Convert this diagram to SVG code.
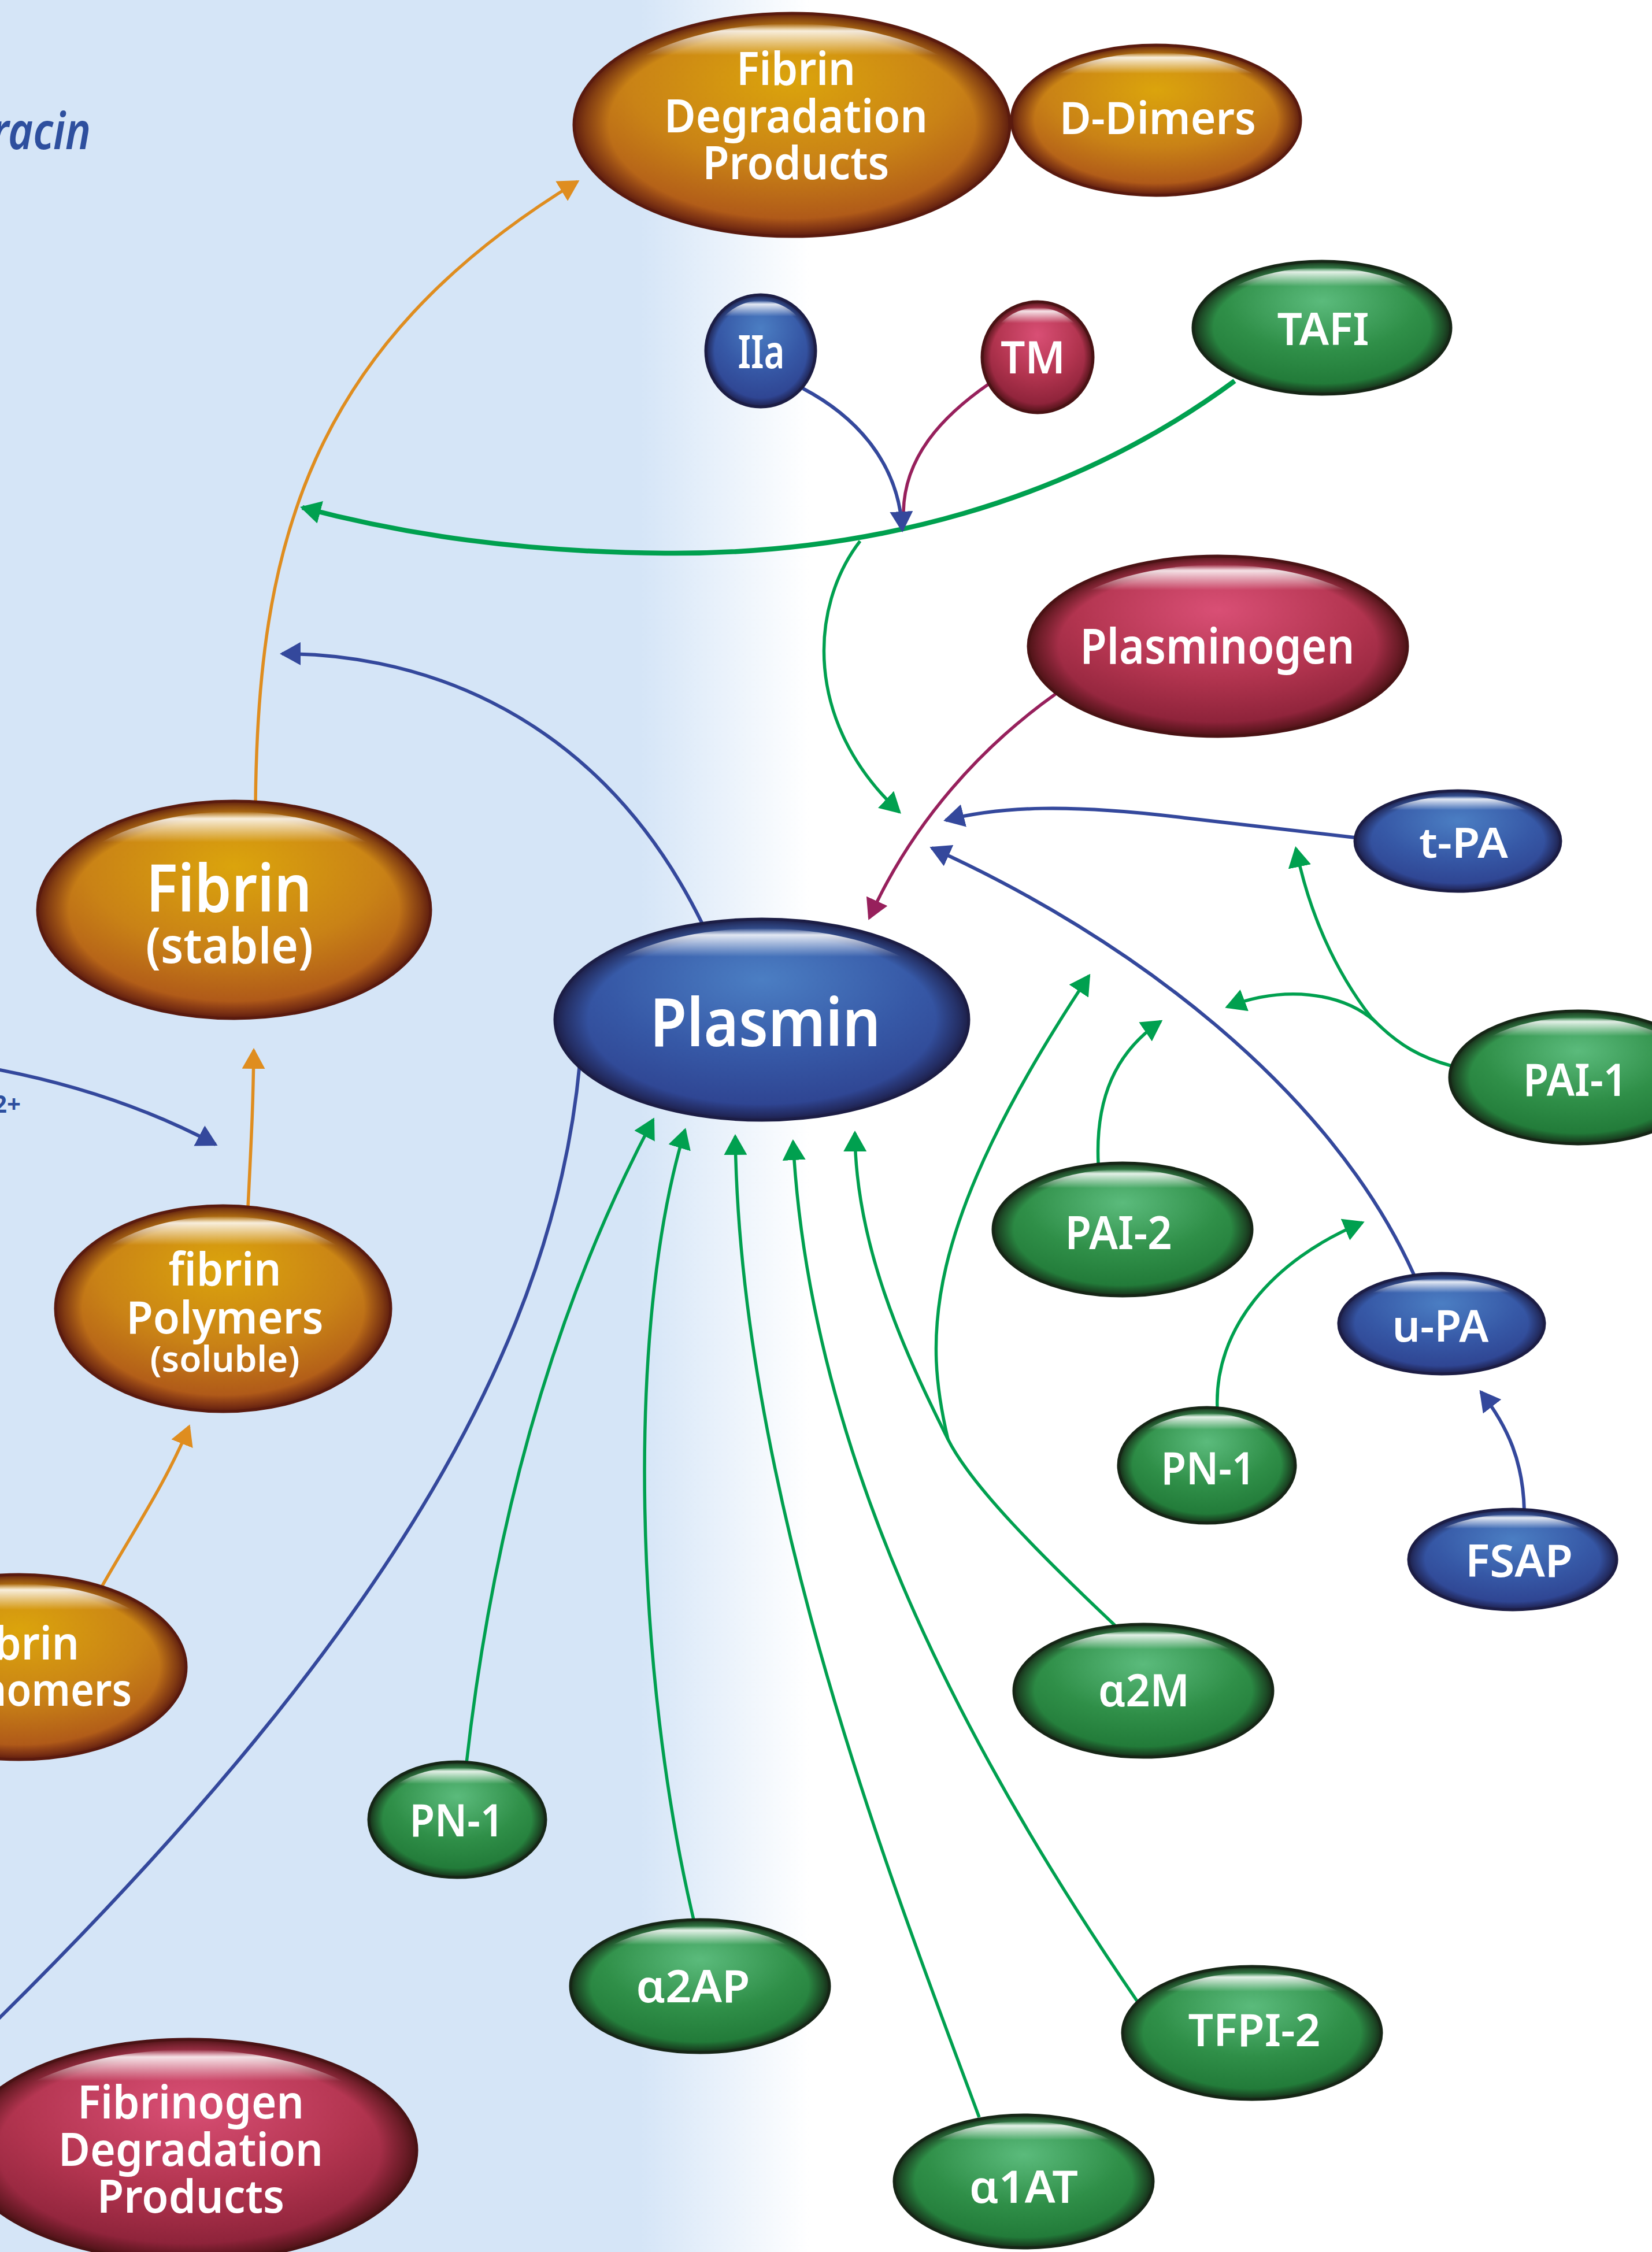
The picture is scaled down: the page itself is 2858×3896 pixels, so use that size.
<svg xmlns="http://www.w3.org/2000/svg" width="2858" height="3896" viewBox="0 0 2858 3896">
<defs>
<linearGradient id="bg" gradientUnits="userSpaceOnUse" x1="0" y1="0" x2="2858" y2="0">
<stop offset="0" stop-color="#d5e5f7"/><stop offset="0.388" stop-color="#d5e5f7"/><stop offset="0.49" stop-color="#ffffff"/><stop offset="1" stop-color="#ffffff"/>
</linearGradient>
<radialGradient id="bOr" cx="0.5" cy="0.3" r="0.75"><stop offset="0" stop-color="#dba40c"/><stop offset="0.5" stop-color="#c98216"/><stop offset="1" stop-color="#a2441a"/></radialGradient>
<radialGradient id="bGr" cx="0.5" cy="0.3" r="0.75"><stop offset="0" stop-color="#5bbb7c"/><stop offset="0.5" stop-color="#2f8f48"/><stop offset="1" stop-color="#1b7031"/></radialGradient>
<radialGradient id="bBl" cx="0.5" cy="0.3" r="0.75"><stop offset="0" stop-color="#4b7ec3"/><stop offset="0.5" stop-color="#3658a6"/><stop offset="1" stop-color="#2b3b88"/></radialGradient>
<radialGradient id="bCr" cx="0.5" cy="0.3" r="0.75"><stop offset="0" stop-color="#d94f75"/><stop offset="0.5" stop-color="#b2344f"/><stop offset="1" stop-color="#7b1a2f"/></radialGradient>
<radialGradient id="eOr" cx="0.5" cy="0.5" r="0.5"><stop offset="0.84" stop-color="#5a1a0e" stop-opacity="0"/><stop offset="0.95" stop-color="#5a1a0e" stop-opacity="0.6"/><stop offset="1" stop-color="#5a1a0e" stop-opacity="0.95"/></radialGradient>
<radialGradient id="eGr" cx="0.5" cy="0.5" r="0.5"><stop offset="0.84" stop-color="#162616" stop-opacity="0"/><stop offset="0.95" stop-color="#162616" stop-opacity="0.6"/><stop offset="1" stop-color="#162616" stop-opacity="0.95"/></radialGradient>
<radialGradient id="eBl" cx="0.5" cy="0.5" r="0.5"><stop offset="0.84" stop-color="#1c1d45" stop-opacity="0"/><stop offset="0.95" stop-color="#1c1d45" stop-opacity="0.6"/><stop offset="1" stop-color="#1c1d45" stop-opacity="0.95"/></radialGradient>
<radialGradient id="eCr" cx="0.5" cy="0.5" r="0.5"><stop offset="0.84" stop-color="#4a1214" stop-opacity="0"/><stop offset="0.95" stop-color="#4a1214" stop-opacity="0.6"/><stop offset="1" stop-color="#4a1214" stop-opacity="0.95"/></radialGradient>
<linearGradient id="hl" x1="0" y1="0" x2="0" y2="1"><stop offset="0" stop-color="#ffffff" stop-opacity="0"/><stop offset="0.035" stop-color="#ffffff" stop-opacity="0.85"/><stop offset="0.15" stop-color="#ffffff" stop-opacity="0"/><stop offset="1" stop-color="#ffffff" stop-opacity="0"/></linearGradient>
<marker id="mB" markerUnits="userSpaceOnUse" viewBox="0 0 36 40" refX="32" refY="20" markerWidth="36" markerHeight="40" orient="auto"><path d="M0,0 L36,20 L0,40 z" fill="#34489c"/></marker>
<marker id="mG" markerUnits="userSpaceOnUse" viewBox="0 0 36 40" refX="32" refY="20" markerWidth="36" markerHeight="40" orient="auto"><path d="M0,0 L36,20 L0,40 z" fill="#00a04f"/></marker>
<marker id="mO" markerUnits="userSpaceOnUse" viewBox="0 0 36 40" refX="32" refY="20" markerWidth="36" markerHeight="40" orient="auto"><path d="M0,0 L36,20 L0,40 z" fill="#df8d1f"/></marker>
<marker id="mR" markerUnits="userSpaceOnUse" viewBox="0 0 36 40" refX="32" refY="20" markerWidth="36" markerHeight="40" orient="auto"><path d="M0,0 L36,20 L0,40 z" fill="#97205c"/></marker>
<style>
.c{fill:none;stroke-width:6}
.cb{stroke:#34489c}.cg{stroke:#00a04f;stroke-width:5.5}.co{stroke:#df8d1f;stroke-width:5.5}.cr{stroke:#97205c;stroke-width:5.5}
.thick{stroke-width:8.5}
.or .b{fill:url(#bOr)}.or .e{fill:url(#eOr);stroke:#5a1a0e;stroke-width:5}
.gr .b{fill:url(#bGr)}.gr .e{fill:url(#eGr);stroke:#162616;stroke-width:5}
.bl .b{fill:url(#bBl)}.bl .e{fill:url(#eBl);stroke:#1c1d45;stroke-width:5}
.cr2 .b{fill:url(#bCr)}.cr2 .e{fill:url(#eCr);stroke:#4a1214;stroke-width:5}
.h{fill:url(#hl)}
.t{fill:#ffffff;font-family:'Noto Sans','Open Sans',sans-serif;font-weight:600;text-anchor:middle}
.lbl{fill:#2e4f9e;font-family:'Noto Sans','Open Sans',sans-serif}
</style>
</defs>
<rect x="0" y="0" width="2858" height="3896" fill="url(#bg)"/>
<g id="side-labels">
<text class="lbl" x="157" y="258" font-size="88" font-style="italic" font-weight="600" text-anchor="end" textLength="172" lengthAdjust="spacingAndGlyphs">racin</text>
<text class="lbl" x="36" y="1925" font-size="42" font-weight="700" text-anchor="end">2+</text>
</g>
<g id="connectors">
<path class="c co" d="M 442 1390 C 446 950, 530 600, 999 314" marker-end="url(#mO)"/>
<path class="c cb" d="M 1215 1598 C 1020 1200, 680 1130, 488 1131" marker-end="url(#mB)"/>
<path class="c cb" d="M 1003 1840 C 960 2300, 700 2800, -10 3500"/>
<path class="c co" d="M 429 2088 C 436 1950, 438 1900, 439 1817" marker-end="url(#mO)"/>
<path class="c co" d="M 176 2745 C 230 2650, 290 2560, 327 2468" marker-end="url(#mO)"/>
<path class="c cb" d="M -5 1850 C 150 1880, 270 1925, 373 1980" marker-end="url(#mB)"/>
<path class="c cg thick" d="M 2136 659 C 1850 870, 1500 960, 1150 957 C 900 955, 700 925, 523 878" marker-end="url(#mG)"/>
<path class="c cg" d="M 1488 936 C 1400 1050, 1390 1250, 1556 1405" marker-end="url(#mG)"/>
<path class="c cr" d="M 1711 664 C 1630 720, 1565 790, 1563 885"/>
<path class="c cb" d="M 1389 672 C 1480 720, 1555 800, 1561 917" marker-end="url(#mB)"/>
<path class="c cr" d="M 1827 1200 C 1700 1290, 1580 1420, 1504 1588" marker-end="url(#mR)"/>
<path class="c cb" d="M 2344 1449 L 2050 1415 C 1850 1390, 1730 1395, 1636 1419" marker-end="url(#mB)"/>
<path class="c cb" d="M 2446 2205 C 2300 1880, 1950 1620, 1612 1467" marker-end="url(#mB)"/>
<path class="c cg" d="M 2511 1844 C 2460 1830, 2420 1810, 2372 1760 C 2310 1680, 2265 1580, 2242 1468" marker-end="url(#mG)"/>
<path class="c cg" d="M 2380 1768 C 2320 1715, 2220 1705, 2123 1742" marker-end="url(#mG)"/>
<path class="c cg" d="M 1900 2012 C 1895 1900, 1930 1820, 2008 1767" marker-end="url(#mG)"/>
<path class="c cg" d="M 2106 2437 C 2100 2300, 2200 2180, 2357 2115" marker-end="url(#mG)"/>
<path class="c cg" d="M 1929 2812 C 1800 2690, 1680 2570, 1640 2490 C 1560 2330, 1480 2150, 1479 1960" marker-end="url(#mG)"/>
<path class="c cg" d="M 1640 2490 C 1600 2320, 1590 2130, 1884 1688" marker-end="url(#mG)"/>
<path class="c cg" d="M 807 3050 C 860 2580, 980 2220, 1130 1937" marker-end="url(#mG)"/>
<path class="c cg" d="M 1200 3321 C 1100 2900, 1080 2300, 1185 1955" marker-end="url(#mG)"/>
<path class="c cg" d="M 1694 3663 C 1560 3300, 1280 2600, 1272 1966" marker-end="url(#mG)"/>
<path class="c cg" d="M 1968 3463 C 1650 3000, 1400 2500, 1372 1975" marker-end="url(#mG)"/>
<path class="c cb" d="M 2637 2613 C 2635 2530, 2610 2470, 2562 2408" marker-end="url(#mB)"/>
</g>
<g id="d-dimers" class="or">
<ellipse class="b" cx="2000" cy="208" rx="250" ry="130"/><ellipse class="e" cx="2000" cy="208" rx="250" ry="130"/><ellipse class="h" cx="2000" cy="213" rx="236" ry="122"/>
<text class="t" x="2003" y="232" font-size="78" textLength="340" lengthAdjust="spacingAndGlyphs">D-Dimers</text>
</g>
<g id="fibrin-degradation-products" class="or">
<ellipse class="b" cx="1370" cy="216" rx="377" ry="193"/><ellipse class="e" cx="1370" cy="216" rx="377" ry="193"/><ellipse class="h" cx="1370" cy="223" rx="356" ry="182"/>
<text class="t" x="1377" y="147" font-size="80" textLength="206" lengthAdjust="spacingAndGlyphs">Fibrin</text>
<text class="t" x="1377" y="229" font-size="80" textLength="456" lengthAdjust="spacingAndGlyphs">Degradation</text>
<text class="t" x="1377" y="310" font-size="80" textLength="323" lengthAdjust="spacingAndGlyphs">Products</text>
</g>
<g id="iia" class="bl">
<ellipse class="b" cx="1316" cy="607" rx="95" ry="97"/><ellipse class="e" cx="1316" cy="607" rx="95" ry="97"/><ellipse class="h" cx="1316" cy="611" rx="88" ry="91"/>
<text class="t" x="1317" y="637" font-size="80" textLength="81" lengthAdjust="spacingAndGlyphs">IIa</text>
</g>
<g id="tm" class="cr2">
<ellipse class="b" cx="1795" cy="618" rx="96" ry="96"/><ellipse class="e" cx="1795" cy="618" rx="96" ry="96"/><ellipse class="h" cx="1795" cy="622" rx="89" ry="90"/>
<text class="t" x="1787" y="646" font-size="78" textLength="112" lengthAdjust="spacingAndGlyphs">TM</text>
</g>
<g id="tafi" class="gr">
<ellipse class="b" cx="2287" cy="567" rx="223" ry="115"/><ellipse class="e" cx="2287" cy="567" rx="223" ry="115"/><ellipse class="h" cx="2287" cy="571" rx="210" ry="108"/>
<text class="t" x="2289" y="597" font-size="78" textLength="159" lengthAdjust="spacingAndGlyphs">TAFI</text>
</g>
<g id="plasminogen" class="cr2">
<ellipse class="b" cx="2107" cy="1118" rx="328" ry="156"/><ellipse class="e" cx="2107" cy="1118" rx="328" ry="156"/><ellipse class="h" cx="2107" cy="1124" rx="310" ry="147"/>
<text class="t" x="2106" y="1148" font-size="84" textLength="475" lengthAdjust="spacingAndGlyphs">Plasminogen</text>
</g>
<g id="fibrin-stable" class="or">
<ellipse class="b" cx="405" cy="1574" rx="340" ry="188"/><ellipse class="e" cx="405" cy="1574" rx="340" ry="188"/><ellipse class="h" cx="405" cy="1581" rx="321" ry="177"/>
<text class="t" x="396" y="1577" font-size="114" textLength="287" lengthAdjust="spacingAndGlyphs">Fibrin</text>
<text class="t" x="397" y="1666" font-size="84" textLength="290" lengthAdjust="spacingAndGlyphs">(stable)</text>
</g>
<g id="plasmin" class="bl">
<ellipse class="b" cx="1318" cy="1764" rx="358" ry="174"/><ellipse class="e" cx="1318" cy="1764" rx="358" ry="174"/><ellipse class="h" cx="1318" cy="1770" rx="338" ry="164"/>
<text class="t" x="1324" y="1810" font-size="116" textLength="399" lengthAdjust="spacingAndGlyphs">Plasmin</text>
</g>
<g id="t-pa" class="bl">
<ellipse class="b" cx="2522" cy="1455" rx="178" ry="87"/><ellipse class="e" cx="2522" cy="1455" rx="178" ry="87"/><ellipse class="h" cx="2522" cy="1459" rx="168" ry="82"/>
<text class="t" x="2532" y="1484" font-size="72" textLength="154" lengthAdjust="spacingAndGlyphs">t-PA</text>
</g>
<g id="pai-1" class="gr">
<ellipse class="b" cx="2730" cy="1864" rx="222" ry="115"/><ellipse class="e" cx="2730" cy="1864" rx="222" ry="115"/><ellipse class="h" cx="2730" cy="1868" rx="209" ry="108"/>
<text class="t" x="2725" y="1896" font-size="78" textLength="180" lengthAdjust="spacingAndGlyphs">PAI-1</text>
</g>
<g id="pai-2" class="gr">
<ellipse class="b" cx="1942" cy="2127" rx="224" ry="115"/><ellipse class="e" cx="1942" cy="2127" rx="224" ry="115"/><ellipse class="h" cx="1942" cy="2131" rx="211" ry="108"/>
<text class="t" x="1935" y="2161" font-size="80" textLength="185" lengthAdjust="spacingAndGlyphs">PAI-2</text>
</g>
<g id="u-pa" class="bl">
<ellipse class="b" cx="2494" cy="2290" rx="178" ry="87"/><ellipse class="e" cx="2494" cy="2290" rx="178" ry="87"/><ellipse class="h" cx="2494" cy="2294" rx="168" ry="82"/>
<text class="t" x="2492" y="2321" font-size="76" textLength="167" lengthAdjust="spacingAndGlyphs">u-PA</text>
</g>
<g id="pn-1-right" class="gr">
<ellipse class="b" cx="2088" cy="2535" rx="153" ry="100"/><ellipse class="e" cx="2088" cy="2535" rx="153" ry="100"/><ellipse class="h" cx="2088" cy="2539" rx="144" ry="94"/>
<text class="t" x="2090" y="2568" font-size="78" textLength="163" lengthAdjust="spacingAndGlyphs">PN-1</text>
</g>
<g id="fsap" class="bl">
<ellipse class="b" cx="2617" cy="2698" rx="180" ry="87"/><ellipse class="e" cx="2617" cy="2698" rx="180" ry="87"/><ellipse class="h" cx="2617" cy="2702" rx="170" ry="82"/>
<text class="t" x="2628" y="2728" font-size="78" textLength="186" lengthAdjust="spacingAndGlyphs">FSAP</text>
</g>
<g id="a2m" class="gr">
<ellipse class="b" cx="1978" cy="2925" rx="224" ry="115"/><ellipse class="e" cx="1978" cy="2925" rx="224" ry="115"/><ellipse class="h" cx="1978" cy="2929" rx="211" ry="108"/>
<text class="t" x="1979" y="2952" font-size="78" textLength="158" lengthAdjust="spacingAndGlyphs">α2M</text>
</g>
<g id="fibrin-polymers" class="or">
<ellipse class="b" cx="386" cy="2264" rx="290" ry="178"/><ellipse class="e" cx="386" cy="2264" rx="290" ry="178"/><ellipse class="h" cx="386" cy="2271" rx="274" ry="167"/>
<text class="t" x="389" y="2224" font-size="80" textLength="195" lengthAdjust="spacingAndGlyphs">fibrin</text>
<text class="t" x="389" y="2307" font-size="78" textLength="341" lengthAdjust="spacingAndGlyphs">Polymers</text>
<text class="t" x="389" y="2373" font-size="62" textLength="259" lengthAdjust="spacingAndGlyphs">(soluble)</text>
</g>
<g id="fibrin-monomers" class="or">
<ellipse class="b" cx="33" cy="2884" rx="289" ry="160"/><ellipse class="e" cx="33" cy="2884" rx="289" ry="160"/><ellipse class="h" cx="33" cy="2890" rx="273" ry="150"/>
<text class="t" x="137" y="2871" font-size="80" style="text-anchor:end" textLength="195" lengthAdjust="spacingAndGlyphs">fibrin</text>
<text class="t" x="228" y="2951" font-size="78" style="text-anchor:end" textLength="370" lengthAdjust="spacingAndGlyphs">Monomers</text>
</g>
<g id="pn-1-left" class="gr">
<ellipse class="b" cx="791" cy="3148" rx="153" ry="100"/><ellipse class="e" cx="791" cy="3148" rx="153" ry="100"/><ellipse class="h" cx="791" cy="3152" rx="144" ry="94"/>
<text class="t" x="790" y="3177" font-size="78" textLength="163" lengthAdjust="spacingAndGlyphs">PN-1</text>
</g>
<g id="a2ap" class="gr">
<ellipse class="b" cx="1211" cy="3436" rx="224" ry="115"/><ellipse class="e" cx="1211" cy="3436" rx="224" ry="115"/><ellipse class="h" cx="1211" cy="3440" rx="211" ry="108"/>
<text class="t" x="1199" y="3464" font-size="78" textLength="197" lengthAdjust="spacingAndGlyphs">α2AP</text>
</g>
<g id="tfpi-2" class="gr">
<ellipse class="b" cx="2166" cy="3517" rx="224" ry="115"/><ellipse class="e" cx="2166" cy="3517" rx="224" ry="115"/><ellipse class="h" cx="2166" cy="3521" rx="211" ry="108"/>
<text class="t" x="2170" y="3540" font-size="78" textLength="229" lengthAdjust="spacingAndGlyphs">TFPI-2</text>
</g>
<g id="a1at" class="gr">
<ellipse class="b" cx="1771" cy="3774" rx="224" ry="115"/><ellipse class="e" cx="1771" cy="3774" rx="224" ry="115"/><ellipse class="h" cx="1771" cy="3778" rx="211" ry="108"/>
<text class="t" x="1771" y="3811" font-size="78" textLength="188" lengthAdjust="spacingAndGlyphs">α1AT</text>
</g>
<g id="fibrinogen-degradation-products" class="cr2">
<ellipse class="b" cx="327" cy="3720" rx="394" ry="192"/><ellipse class="e" cx="327" cy="3720" rx="394" ry="192"/><ellipse class="h" cx="327" cy="3727" rx="372" ry="181"/>
<text class="t" x="330" y="3665" font-size="80" textLength="392" lengthAdjust="spacingAndGlyphs">Fibrinogen</text>
<text class="t" x="330" y="3747" font-size="80" textLength="458" lengthAdjust="spacingAndGlyphs">Degradation</text>
<text class="t" x="330" y="3828" font-size="80" textLength="324" lengthAdjust="spacingAndGlyphs">Products</text>
</g>
</svg>
